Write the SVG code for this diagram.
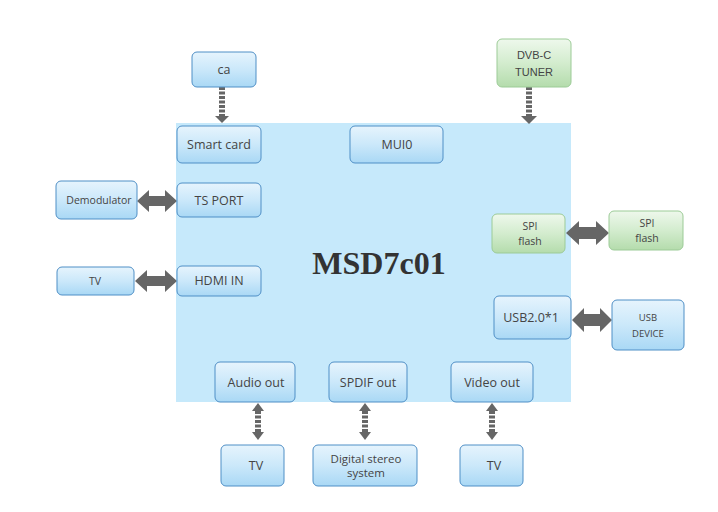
<svg xmlns="http://www.w3.org/2000/svg" width="718" height="512" viewBox="0 0 718 512">
<style>
.b{fill:url(#gb);stroke:#4f8fc6;stroke-width:1}
.g{fill:url(#gg);stroke:#9ccb97;stroke-width:1}
.t{font-family:"Open Sans","Noto Sans",sans-serif;font-size:12.5px;fill:#444;text-anchor:middle}
.s{font-size:10.5px}
.xs{font-size:9.5px}
.m{font-size:11.5px}
.a{font-family:"Liberation Sans",Arial,sans-serif;font-size:11px;fill:#444;text-anchor:middle}
.ar{fill:#666}
.ds{stroke:#666;stroke-width:6;stroke-dasharray:3 1.5;fill:none}
</style>
<defs>
<linearGradient id="gb" x1="0" y1="0" x2="0" y2="1">
<stop offset="0" stop-color="#e6f4fd"/><stop offset="0.5" stop-color="#cbe8fa"/><stop offset="1" stop-color="#a9d8f5"/>
</linearGradient>
<linearGradient id="gg" x1="0" y1="0" x2="0" y2="1">
<stop offset="0" stop-color="#eef8ec"/><stop offset="0.5" stop-color="#d3ecce"/><stop offset="1" stop-color="#b4dcac"/>
</linearGradient>
</defs>
<rect width="718" height="512" fill="#fff"/>
<g id="main">
<rect x="176" y="123" width="395" height="279" fill="#c6e9fb"/>
<text x="379" y="274" font-family="Liberation Serif,Times New Roman,serif" font-weight="bold" font-size="32" fill="#333" text-anchor="middle">MSD7c01</text>
</g>
<g id="connectors">
<line class="ds" x1="222" y1="87" x2="222" y2="116"/>
<polygon class="ar" points="215,116 229,116 222,123"/>
<line class="ds" x1="529" y1="87" x2="529" y2="116"/>
<polygon class="ar" points="521,116 537,116 529,124"/>
<polygon class="ar" points="137,201 149,190 149,196 165,196 165,190 177,201 165,212 165,206 149,206 149,212"/>
<polygon class="ar" points="135,281 147,270 147,276 165,276 165,270 177,281 165,292 165,286 147,286 147,292"/>
<polygon class="ar" points="566,233 579,221 579,227 596,227 596,221 609,233 596,245 596,239 579,239 579,245"/>
<polygon class="ar" points="572,320 584,308 584,314 600,314 600,308 612,320 600,332 600,326 584,326 584,332"/>
<g>
<polygon class="ar" points="258,403 264,411 252,411"/><line class="ds" x1="258" y1="411" x2="258" y2="432"/><polygon class="ar" points="252,432 264,432 258,440"/>
<polygon class="ar" points="365,403 371,411 359,411"/><line class="ds" x1="365" y1="411" x2="365" y2="432"/><polygon class="ar" points="359,432 371,432 365,440"/>
<polygon class="ar" points="492,403 498,411 486,411"/><line class="ds" x1="492" y1="411" x2="492" y2="432"/><polygon class="ar" points="486,432 498,432 492,440"/>
</g>
</g>
<g id="ca"><rect class="b" x="192" y="52" width="64" height="35" rx="5"/><text class="t" x="224" y="74">ca</text></g>
<g id="smartcard"><rect class="b" x="177" y="126" width="84" height="37" rx="5"/><text class="t" x="219" y="149">Smart card</text></g>
<g id="dvbc"><rect class="g" x="497" y="39" width="74" height="48" rx="5"/><text class="a" x="534" y="59">DVB-C</text><text class="a" x="534" y="76">TUNER</text></g>
<g id="mui0"><rect class="b" x="350" y="126" width="93" height="37" rx="5"/><text class="t" x="397" y="149">MUI0</text></g>
<g id="demod"><rect class="b" x="56" y="181" width="81" height="38" rx="5"/><text class="t s" x="99" y="204">Demodulator</text></g>
<g id="tsport"><rect class="b" x="177" y="183" width="84" height="34" rx="5"/><text class="t" x="219" y="205">TS PORT</text></g>
<g id="tvleft"><rect class="b" x="57" y="267" width="77" height="28" rx="5"/><text class="t s" x="95" y="285">TV</text></g>
<g id="hdmi"><rect class="b" x="177" y="266" width="84" height="30" rx="5"/><text class="t" x="219" y="285">HDMI IN</text></g>
<g id="spi1"><rect class="g" x="492" y="214" width="73" height="39" rx="5"/><text class="t s" x="530" y="230">SPI</text><text class="t s" x="530" y="245">flash</text></g>
<g id="spi2"><rect class="g" x="609" y="211" width="74" height="39" rx="5"/><text class="t s" x="647" y="227">SPI</text><text class="t s" x="647" y="242">flash</text></g>
<g id="usb"><rect class="b" x="494" y="296" width="77" height="43" rx="5"/><text class="t" x="531" y="322">USB2.0*1</text></g>
<g id="usbdev"><rect class="b" x="612" y="300" width="72" height="50" rx="5"/><text class="t xs" x="648" y="321">USB</text><text class="t xs" x="648" y="337">DEVICE</text></g>
<g id="audio"><rect class="b" x="215" y="362" width="80" height="40" rx="5"/><text class="t" x="256" y="387">Audio out</text></g>
<g id="spdif"><rect class="b" x="329" y="362" width="78" height="40" rx="5"/><text class="t" x="368" y="387">SPDIF out</text></g>
<g id="video"><rect class="b" x="451" y="362" width="82" height="40" rx="5"/><text class="t" x="492" y="387">Video out</text></g>
<g id="tv1"><rect class="b" x="221" y="445" width="63" height="41" rx="5"/><text class="t" x="256" y="470">TV</text></g>
<g id="dss"><rect class="b" x="313" y="445" width="104" height="41" rx="5"/><text class="t m" x="366" y="463">Digital stereo</text><text class="t m" x="366" y="477">system</text></g>
<g id="tv2"><rect class="b" x="460" y="445" width="63" height="41" rx="5"/><text class="t" x="494" y="470">TV</text></g>
</svg>
